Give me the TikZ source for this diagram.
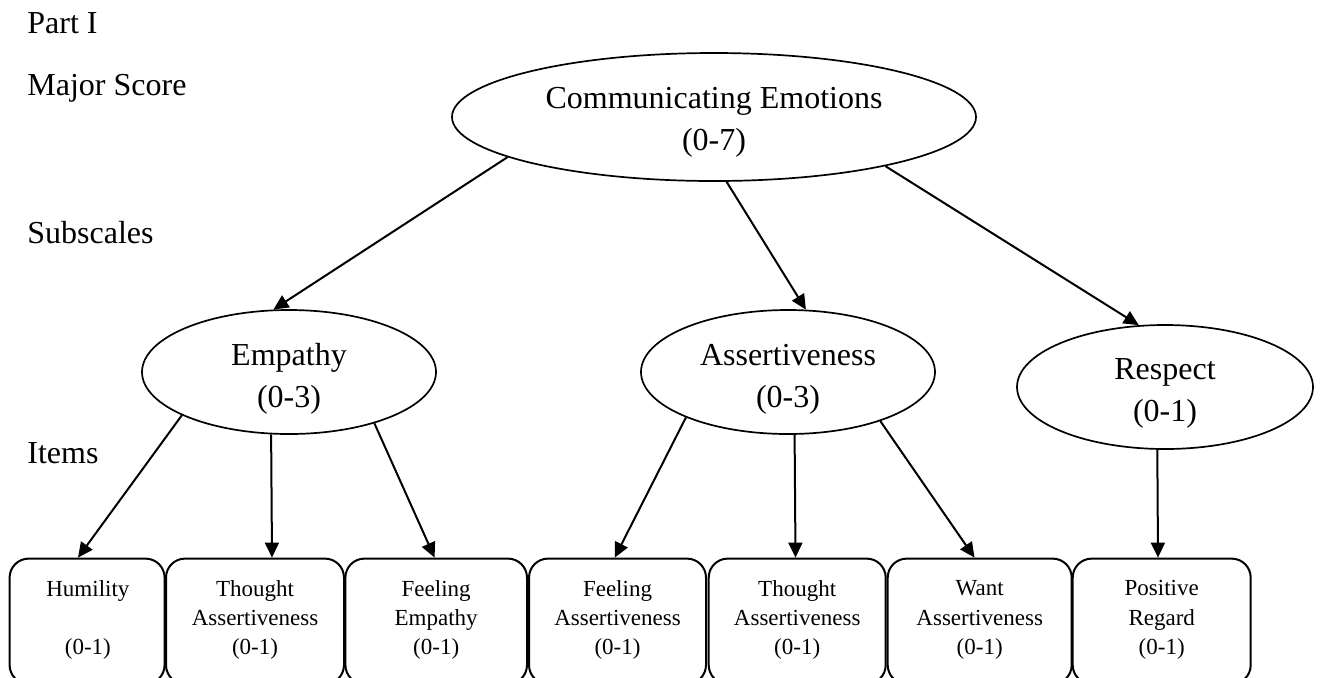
\documentclass[tikz,border=0pt]{standalone}
\usepackage{fontspec}
\setmainfont{Liberation Serif}
\usetikzlibrary{shapes.geometric,arrows.meta}
\begin{document}
\begin{tikzpicture}[x=0.5pt,y=-0.5pt,
  oval/.style={ellipse, draw, line width=0.85pt, inner sep=0pt},
  bigtext/.style={font=\fontsize{16}{21}\selectfont, align=center, inner sep=0pt},
  smalltext/.style={font=\fontsize{11.5}{14.65}\selectfont, align=center, inner sep=0pt},
  itembox/.style={draw, rounded corners=9.5pt, line width=1pt, inner sep=0pt, minimum height=62.7pt},
  link/.style={-{Triangle[length=7.5pt,width=7pt]}, line width=1pt},
  leftlabel/.style={font=\fontsize{16}{21}\selectfont, anchor=base west, inner sep=0pt}]
\clip (0,0) rectangle (1322,677);

% left labels
\node[leftlabel] (lpart) at (27,33) {Part I};
\node[leftlabel] (lmajor) at (27,95) {Major Score};
\node[leftlabel] (lsub) at (27,243) {Subscales};
\node[leftlabel] (litems) at (27,463) {Items};

% ellipses
\node[oval, minimum width=262pt, minimum height=64pt] (top) at (714,117) {};
\node[bigtext] (topT) at (714,122) {Communicating Emotions\\(0-7)};
\node[oval, minimum width=147pt, minimum height=62pt] (emp) at (289,372) {};
\node[bigtext] (empT) at (289,379) {Empathy\\(0-3)};
\node[oval, minimum width=147pt, minimum height=62pt] (ass) at (788,372) {};
\node[bigtext] (assT) at (788,379) {Assertiveness\\(0-3)};
\node[oval, minimum width=148pt, minimum height=62pt] (res) at (1165,387) {};
\node[bigtext] (resT) at (1165,393) {Respect\\(0-1)};

% item boxes
\node[itembox, minimum width=77.5pt] (b1) at (87.1,621.3) {};
\node[itembox, minimum width=89pt] (b2) at (255,621.3) {};
\node[itembox, minimum width=90.8pt] (b3) at (436.2,621.3) {};
\node[itembox, minimum width=88.5pt] (b4) at (617.5,621.3) {};
\node[itembox, minimum width=88.5pt] (b5) at (797.2,621.3) {};
\node[itembox, minimum width=92pt] (b6) at (979.7,621.3) {};
\node[itembox, minimum width=89pt] (b7) at (1161.7,621.3) {};

\node[smalltext] (t1) at (87.9,620) {Humility\\\mbox{}\\(0-1)};
\node[smalltext] (t2) at (255,620) {Thought\\Assertiveness\\(0-1)};
\node[smalltext] (t3) at (436.2,620) {Feeling\\Empathy\\(0-1)};
\node[smalltext] (t4) at (617.5,620) {Feeling\\Assertiveness\\(0-1)};
\node[smalltext] (t5) at (797.2,620) {Thought\\Assertiveness\\(0-1)};
\node[smalltext] (t6) at (979.7,620) {Want\\Assertiveness\\(0-1)};
\node[smalltext] (t7) at (1161.7,620) {Positive\\Regard\\(0-1)};

% connectors
\draw[link] (top.191.3) -- (emp.104.3);
\draw[link] (top.281.1) -- (ass.74.05);
\draw[link] (top.344) -- (res.113.2);

\draw[link] (emp.202.6) -- ([xshift=-4.55pt]b1.north);
\draw[link] (emp.254.9) -- ([xshift=8.5pt]b2.north);
\draw[link] (emp.329.9) -- ([xshift=-0.8pt]b3.north);

\draw[link] (ass.204.5) -- ([xshift=-1.4pt]b4.north);
\draw[link] (ass.276.3) -- ([xshift=-0.85pt]b5.north);
\draw[link] (ass.332.3) -- ([xshift=-2.6pt]b6.north);

\draw[link] (res.263.6) -- ([xshift=-1.85pt]b7.north);
\end{tikzpicture}
\end{document}
